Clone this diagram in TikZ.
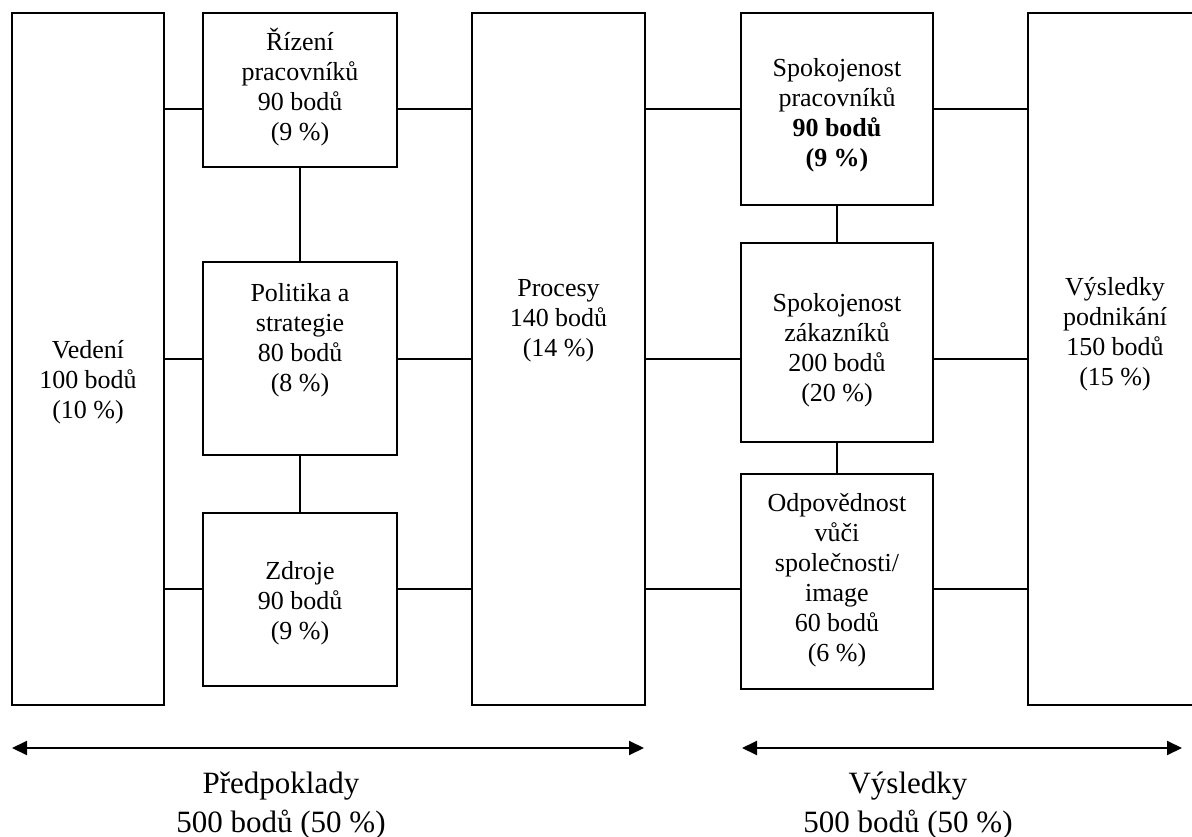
\documentclass[tikz,border=0pt]{standalone}
\usepackage{fontspec}
\setmainfont{Liberation Serif}
\usetikzlibrary{arrows.meta}
\begin{document}
\begin{tikzpicture}[x=1pt,y=-1pt,
  box/.style={draw, line width=1.7pt, inner sep=0pt, outer sep=0pt},
  lbl/.style={align=center, font=\fontsize{26}{30}\selectfont, inner sep=0pt},
  big/.style={align=center, font=\fontsize{31}{38.5}\selectfont, inner sep=0pt},
  link/.style={line width=1.7pt},
  span/.style={line width=2pt, {Triangle[length=15pt,width=14pt]}-{Triangle[length=15pt,width=14pt]}}]
\useasboundingbox (0,0) rectangle (1192,837);
\fill[white] (0,0) rectangle (1192,837);
% boxes
\node[box, minimum width=152pt, minimum height=692pt] (ved) at (88,359) {};
\node[box, minimum width=194pt, minimum height=154pt] (riz) at (300,90) {};
\node[box, minimum width=194pt, minimum height=193pt] (pol) at (300,358.5) {};
\node[box, minimum width=194pt, minimum height=173pt] (zdr) at (300,599.5) {};
\node[box, minimum width=173pt, minimum height=692pt] (pro) at (558.5,359) {};
\node[box, minimum width=192pt, minimum height=192pt] (spr) at (837,109) {};
\node[box, minimum width=192pt, minimum height=199pt] (szk) at (837,342.5) {};
\node[box, minimum width=192pt, minimum height=215pt] (odp) at (837,581.5) {};
\node[box, minimum width=172pt, minimum height=692pt] (vys) at (1114,359) {};
% texts
\node[lbl] (vedT) at (88,382.5) {Vedení\\100 bodů\\(10~\%)};
\node[lbl] (rizT) at (300,87) {Řízení\\pracovníků\\90 bodů\\(9~\%)};
\node[lbl] (polT) at (300,340.5) {Politika a\\strategie\\80 bodů\\(8~\%)};
\node[lbl] (zdrT) at (300,603.5) {Zdroje\\90 bodů\\(9~\%)};
\node[lbl] (proT) at (558.5,321) {Procesy\\140 bodů\\(14~\%)};
\node[lbl] (sprT) at (837,115.5) {Spokojenost\\pracovníků\\\textbf{90 bodů}\\\textbf{(9~\%)}};
\node[lbl] (szkT) at (837,350.5) {Spokojenost\\zákazníků\\200 bodů\\(20~\%)};
\node[lbl] (odpT) at (837,580.5) {Odpovědnost\\vůči\\společnosti/\\image\\60 bodů\\(6~\%)};
\node[lbl] (vysT) at (1115,334) {Výsledky\\podnikání\\150 bodů\\(15~\%)};
% connector rows
\coordinate (r1) at (0,109);
\coordinate (r2) at (0,359);
\coordinate (r3) at (0,589);
\foreach \a/\b in {ved/riz,riz/pro,pro/spr,spr/vys}
  \draw[link] (\a.east |- r1) -- (\b.west |- r1);
\foreach \a/\b in {ved/pol,pol/pro,pro/szk,szk/vys}
  \draw[link] (\a.east |- r2) -- (\b.west |- r2);
\foreach \a/\b in {ved/zdr,zdr/pro,pro/odp,odp/vys}
  \draw[link] (\a.east |- r3) -- (\b.west |- r3);
\draw[link] (riz.south) -- (pol.north);
\draw[link] (pol.south) -- (zdr.north);
\draw[link] (spr.south) -- (szk.north);
\draw[link] (szk.south) -- (odp.north);
% span arrows
\coordinate (aL1) at (12,748);
\coordinate (aL2) at (644,748);
\coordinate (aR1) at (742,748);
\coordinate (aR2) at (1182,748);
\draw[span] (aL1) -- (aL2);
\draw[span] (aR1) -- (aR2);
\node[big] (predT) at (281,805.5) {Předpoklady\\500 bodů (50~\%)};
\node[big] (vysledT) at (908,805.5) {Výsledky\\500 bodů (50~\%)};
\end{tikzpicture}
\end{document}
